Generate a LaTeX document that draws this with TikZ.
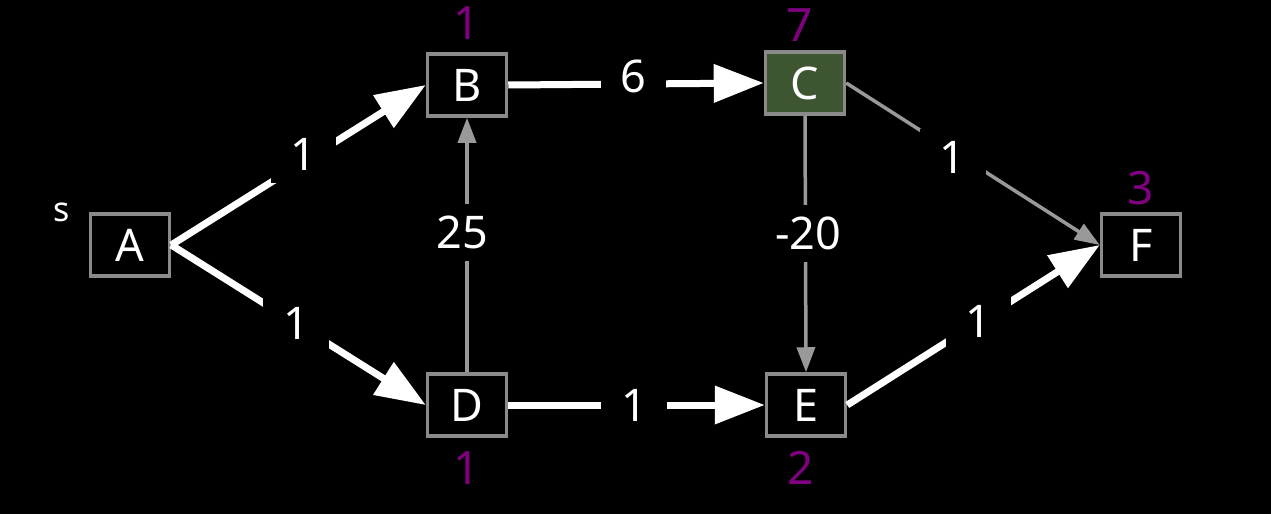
\documentclass[tikz,border=0pt]{standalone}
\usepackage{fontspec}
\setmainfont{Noto Sans}
\usetikzlibrary{arrows.meta}
\definecolor{boxgray}{HTML}{8A8A8A}
\definecolor{edgegray}{HTML}{999999}
\definecolor{distpurple}{HTML}{800080}
\definecolor{cfill}{HTML}{3D5530}

\begin{document}
\begin{tikzpicture}[x=1pt,y=-1pt,
  vertex/.style={draw=boxgray, line width=3.5pt, fill=black, text=white,
    minimum width=79pt, minimum height=62pt, inner sep=0pt,
    font=\fontsize{45}{54}\selectfont},
  dist/.style={text=distpurple, inner sep=0pt, font=\fontsize{46}{55}\selectfont},
  heavy/.style={draw=white, line width=7pt, -{Triangle[length=50pt,width=37pt]}},
  light/.style={draw=edgegray, line width=3.5pt, -{Triangle[length=25pt,width=18pt]}},
  weight/.style={fill=black, text=white, inner xsep=20pt, inner ysep=12pt,
    font=\fontsize{45}{54}\selectfont},
]
\fill[black] (0,0) rectangle (1271,514);
\useasboundingbox (0,0) rectangle (1271,514);

% vertices
\node[vertex] (A) at (130,245) {A};
\node[vertex] (B) at (467,85) {B};
\node[vertex, fill=cfill] (C) at (805,83) {C};
\node[vertex] (D) at (467,405) {D};
\node[vertex] (E) at (806,405) {E};
\node[vertex] (F) at (1141,245) {F};

% source marker and distance labels
\node[text=white, inner sep=0pt, font=\fontsize{34}{40}\selectfont] (src) at (62,212) {s};
\node[dist] (dB) at (467,23) {1};
\node[dist] (dC) at (800,25) {7};
\node[dist] (dF) at (1141,188) {3};
\node[dist] (dD) at (467,468) {1};
\node[dist] (dE) at (801,468) {2};

% edges
\draw[heavy] (A.east) -- node[weight, pos=0.52, yshift=7pt] (wAB) {1} (B.west);
\draw[heavy] (A.east) -- node[weight, pos=0.49] (wAD) {1} (D.west);
\draw[heavy] (B.east) -- node[weight, pos=0.49, yshift=8pt] (wBC) {6} (C.west);
\draw[heavy] (D.east) -- node[weight, pos=0.49] (wDE) {1} (E.west);
\draw[heavy] (E.east) -- node[weight, pos=0.52] (wEF) {1} (F.west);
\draw[light] (D.north) -- node[weight, pos=0.55, xshift=-5pt] (wDB) {25} (B.south);
\draw[light] (C.south) -- node[weight, pos=0.46, xshift=3pt] (wCE) {-20} (E.north);
\draw[light] (C.east) -- node[weight, pos=0.42, yshift=-6pt] (wCF) {1} (F.west);
\end{tikzpicture}
\end{document}
